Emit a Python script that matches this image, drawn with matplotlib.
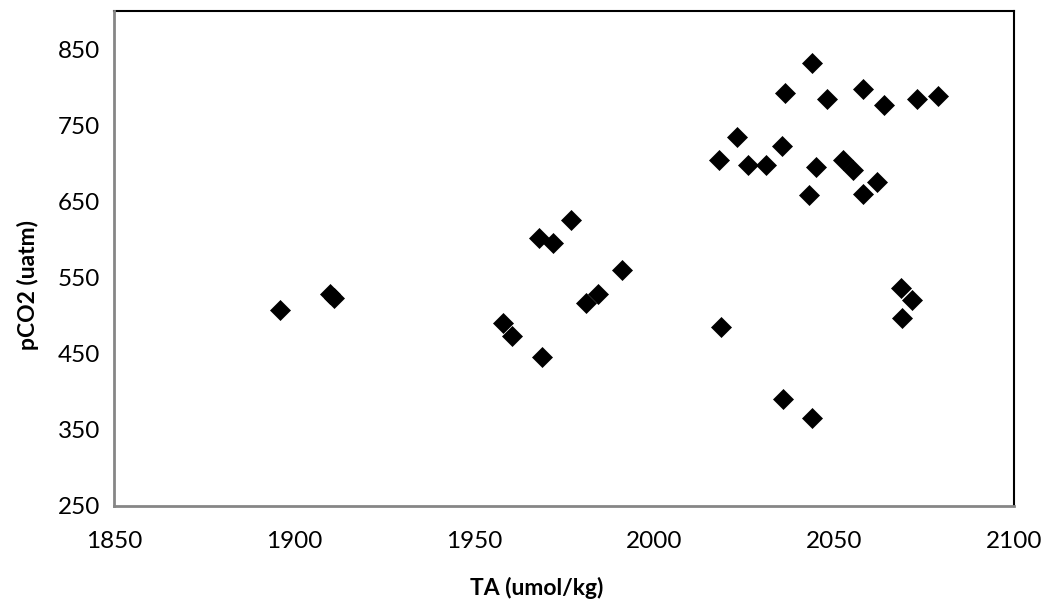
import matplotlib
matplotlib.use("Agg")
import matplotlib.pyplot as plt

# Total alkalinity vs. partial pressure of CO2 samples
ta_umol_kg = [
    1896, 1910, 1911, 1958, 1960.5, 1969, 1968, 1972, 1977, 1981, 1984.5, 1991,
    2018.6, 2018, 2023, 2026, 2031, 2035.6, 2036.5, 2035.7, 2044, 2043, 2044,
    2045, 2048, 2052.4, 2055.2, 2058, 2058, 2062, 2064, 2073, 2079, 2068.6,
    2071.6, 2069,
]
pco2_uatm = [
    507, 529, 523, 490, 473, 446, 602, 596, 626, 516, 528, 560,
    485, 705, 735, 698, 698, 723, 792, 390, 365, 659, 832,
    695, 785, 704, 691, 798, 660, 675, 776, 784, 789, 536,
    521, 497,
]
x_ticks = [1850, 1900, 1950, 2000, 2050, 2100]
y_ticks = [250, 350, 450, 550, 650, 750, 850]

plt.rcParams['font.family'] = ['Lato', 'DejaVu Sans']

W, H = 1047, 605
fig = plt.figure(figsize=(W / 100, H / 100), dpi=100)
ax = fig.add_axes([114 / W, 1 - 506 / H, 900 / W, 495 / H])

ax.plot(ta_umol_kg, pco2_uatm, linestyle='none', marker='D', markersize=10,
        color='black', markeredgecolor='black', markeredgewidth=0.5)

ax.set_xlim(1850, 2100)
ax.set_ylim(250, 900)
ax.set_xticks(x_ticks)
ax.set_yticks(y_ticks)
ax.tick_params(axis='both', length=0, labelsize=17.5, colors='black')
ax.tick_params(axis='x', pad=18)
ax.tick_params(axis='y', pad=10)

for side in ('top', 'right'):
    ax.spines[side].set_color('black')
    ax.spines[side].set_linewidth(1.5)
for side in ('left', 'bottom'):
    ax.spines[side].set_color('#868686')
    ax.spines[side].set_linewidth(2)
    ax.spines[side].set_zorder(3)

fig.text(537 / W, 1 - 588 / H, 'TA (umol/kg)', ha='center', va='center',
         fontsize=16.5, fontweight='bold')
fig.text(28 / W, 1 - 285 / H, 'pCO2 (uatm)', ha='center', va='center',
         rotation=90, fontsize=16.5, fontweight='bold')

fig.savefig('out.png', dpi=100)
